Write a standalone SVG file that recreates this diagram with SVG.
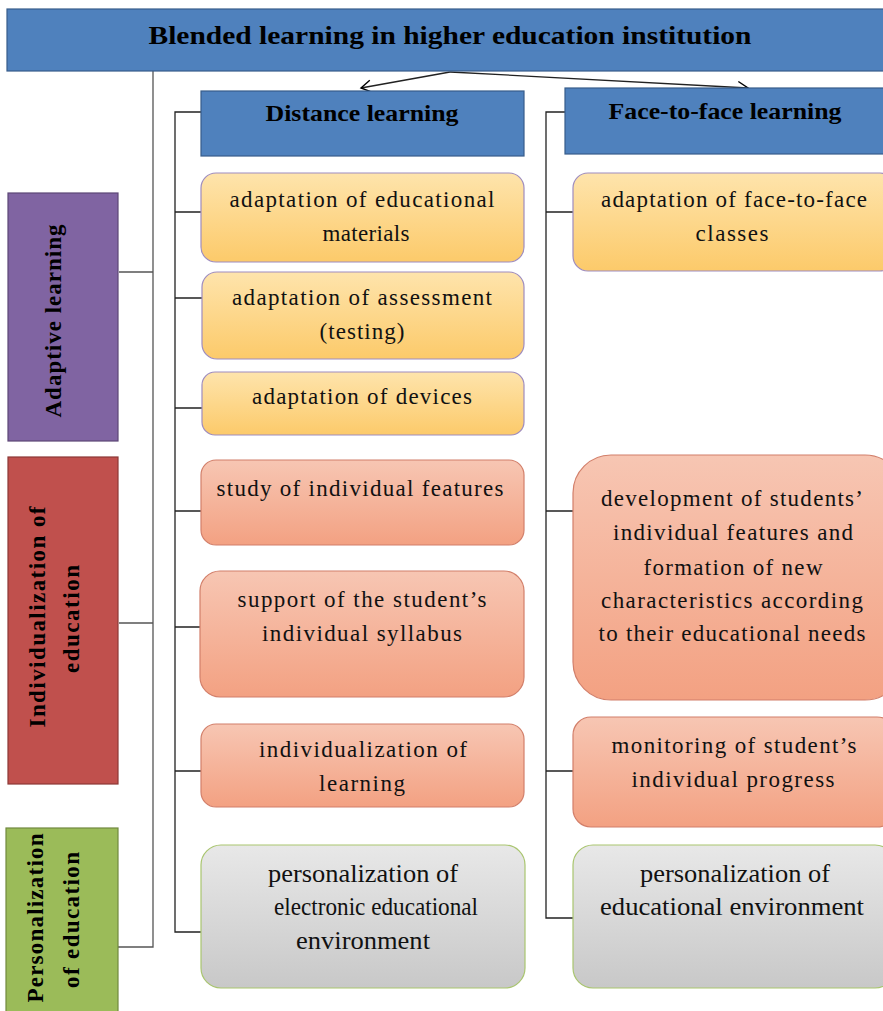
<svg xmlns="http://www.w3.org/2000/svg" width="883" height="1011" viewBox="0 0 883 1011">
<defs>
<linearGradient id="gy" x1="0" y1="0" x2="0" y2="1"><stop offset="0" stop-color="#FEE4AC"/><stop offset="1" stop-color="#FCCA6A"/></linearGradient>
<linearGradient id="gs" x1="0" y1="0" x2="0" y2="1"><stop offset="0" stop-color="#F7C6B3"/><stop offset="1" stop-color="#F3A182"/></linearGradient>
<linearGradient id="gg" x1="0" y1="0" x2="0" y2="1"><stop offset="0" stop-color="#E8E8E8"/><stop offset="1" stop-color="#C8C8C8"/></linearGradient>
<marker id="arr" markerWidth="14" markerHeight="14" refX="11" refY="7" orient="auto" markerUnits="userSpaceOnUse"><path d="M1,1 L11,7 L1,13" fill="none" stroke="#000" stroke-width="1.4"/></marker>
<style>
.blue{fill:#4F81BD;stroke:#385D8A;stroke-width:1.2}
.yel{fill:url(#gy);stroke:#9E8CBF;stroke-width:1.2}
.sal{fill:url(#gs);stroke:#D27F6A;stroke-width:1.2}
.gry{fill:url(#gg);stroke:#A9C56F;stroke-width:1.2}
.t{font-family:"Liberation Serif","Times New Roman",serif;font-size:23px;fill:#111;text-anchor:middle}
.g{font-family:"Liberation Serif","Times New Roman",serif;font-size:25px;fill:#111;text-anchor:middle}
.h{font-family:"Liberation Serif","Times New Roman",serif;font-weight:bold;fill:#000;text-anchor:middle}
.ln{fill:none;stroke:#222;stroke-width:1.3}
.lg{fill:none;stroke:#555;stroke-width:1.3}
</style>
</defs>

<g id="connectors">
<polyline class="lg" points="119,272 153,272"/>
<polyline class="lg" points="153,71 153,947 118,947"/>
<polyline class="lg" points="119,623 153,623"/>
<path class="ln" d="M450,72 L361,88" marker-end="url(#arr)"/>
<path class="ln" d="M450,72 L748,88" marker-end="url(#arr)"/>
<polyline class="ln" points="201,112 175,112 175,932 201,932"/>
<path class="ln" d="M175,212H201M175,298H202M175,408H202M175,511H201M175,627H200M175,771H201"/>
<polyline class="ln" points="565,112 546,112 546,918 573,918"/>
<path class="ln" d="M546,212H573M546,511H573M546,771H573"/>
</g>

<g id="title">
<rect class="blue" x="7" y="9" width="890" height="62"/>
<text class="h" x="450" y="44" font-size="26" textLength="603" lengthAdjust="spacingAndGlyphs">Blended learning in higher education institution</text>
</g>

<g id="distance">
<rect class="blue" x="201" y="91" width="323" height="65"/>
<text class="h" x="362" y="121" font-size="23" textLength="193" lengthAdjust="spacingAndGlyphs">Distance learning</text>
</g>
<g id="face">
<rect class="blue" x="565" y="88" width="330" height="66"/>
<text class="h" x="725" y="119" font-size="23" textLength="233" lengthAdjust="spacingAndGlyphs">Face-to-face learning</text>
</g>

<g id="adaptive">
<rect x="8" y="193" width="110" height="248" fill="#8064A2" stroke="#5C4776" stroke-width="1.2"/>
<text class="h" font-size="23" transform="translate(61,321) rotate(-90)" textLength="193" lengthAdjust="spacing">Adaptive learning</text>
</g>
<g id="individualization">
<rect x="8" y="457" width="110" height="327" fill="#C0504D" stroke="#8C3836" stroke-width="1.2"/>
<text class="h" font-size="23" transform="translate(45,617) rotate(-90)" textLength="221" lengthAdjust="spacing">Individualization of</text>
<text class="h" font-size="23" transform="translate(79,619) rotate(-90)" textLength="108" lengthAdjust="spacing">education</text>
</g>
<g id="personalization">
<rect x="6" y="828" width="112" height="200" fill="#9BBB59" stroke="#71893F" stroke-width="1.2"/>
<text class="h" font-size="23" transform="translate(43,918) rotate(-90)" textLength="169" lengthAdjust="spacing">Personalization</text>
<text class="h" font-size="23" transform="translate(79,920) rotate(-90)" textLength="136" lengthAdjust="spacing">of education</text>
</g>

<g id="d-materials">
<rect class="yel" x="201" y="173" width="323" height="89" rx="15"/>
<text class="t" x="362" y="207" textLength="265">adaptation of educational</text>
<text class="t" x="366" y="241" textLength="87">materials</text>
</g>
<g id="d-assessment">
<rect class="yel" x="202" y="272" width="322" height="87" rx="15"/>
<text class="t" x="362" y="305" textLength="260">adaptation of assessment</text>
<text class="t" x="362" y="339" textLength="85">(testing)</text>
</g>
<g id="d-devices">
<rect class="yel" x="202" y="372" width="322" height="63" rx="13"/>
<text class="t" x="362" y="404" textLength="220">adaptation of devices</text>
</g>
<g id="f-classes">
<rect class="yel" x="573" y="173" width="322" height="98" rx="15"/>
<text class="t" x="734" y="207" textLength="266">adaptation of face-to-face</text>
<text class="t" x="732" y="241" textLength="73">classes</text>
</g>

<g id="d-study">
<rect class="sal" x="201" y="460" width="323" height="85" rx="15"/>
<text class="t" x="360" y="496" textLength="287">study of individual features</text>
</g>
<g id="d-support">
<rect class="sal" x="200" y="571" width="324" height="126" rx="20"/>
<text class="t" x="362" y="607" textLength="249">support of the student’s</text>
<text class="t" x="362" y="641" textLength="200">individual syllabus</text>
</g>
<g id="d-individualization">
<rect class="sal" x="201" y="724" width="323" height="83" rx="15"/>
<text class="t" x="363" y="757" textLength="208">individualization of</text>
<text class="t" x="362" y="791" textLength="86">learning</text>
</g>
<g id="f-development">
<rect class="sal" x="573" y="455" width="330" height="245" rx="38"/>
<text class="t" x="732" y="506" textLength="262">development of students’</text>
<text class="t" x="733" y="540" textLength="240">individual features and</text>
<text class="t" x="733" y="575" textLength="179">formation of new</text>
<text class="t" x="732" y="608" textLength="262">characteristics according</text>
<text class="t" x="732" y="641" textLength="267">to their educational needs</text>
</g>
<g id="f-monitoring">
<rect class="sal" x="573" y="717" width="322" height="110" rx="18"/>
<text class="t" x="734" y="753" textLength="245">monitoring of student’s</text>
<text class="t" x="733" y="787" textLength="203">individual progress</text>
</g>

<g id="d-personalization">
<rect class="gry" x="201" y="845" width="324" height="143" rx="20"/>
<text class="g" x="363" y="882" textLength="190" lengthAdjust="spacingAndGlyphs">personalization of</text>
<text class="g" x="376" y="915" textLength="204" lengthAdjust="spacingAndGlyphs">electronic educational</text>
<text class="g" x="363" y="949" textLength="134" lengthAdjust="spacingAndGlyphs">environment</text>
</g>
<g id="f-personalization">
<rect class="gry" x="573" y="845" width="322" height="143" rx="20"/>
<text class="g" x="735" y="882" textLength="190" lengthAdjust="spacingAndGlyphs">personalization of</text>
<text class="g" x="732" y="915" textLength="264" lengthAdjust="spacingAndGlyphs">educational environment</text>
</g>
</svg>
